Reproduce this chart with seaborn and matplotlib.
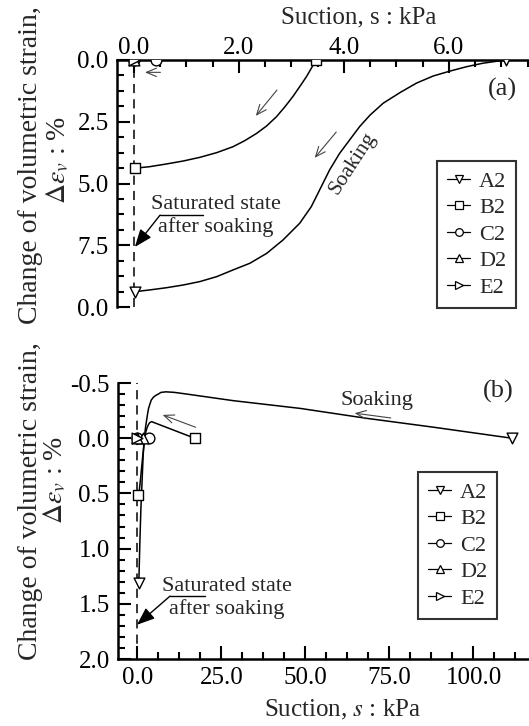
import matplotlib
matplotlib.use("Agg")
import matplotlib.pyplot as plt
import seaborn as sns
import pandas as pd
from matplotlib.lines import Line2D
from matplotlib.ticker import MultipleLocator, FixedLocator, FixedFormatter

# ---------------- panel (a): strain vs suction during soaking ----------------
a_A2_suction = [7.08, 6.65, 6.34, 6.02, 5.70, 5.38, 5.07, 4.75, 4.50, 4.30, 4.11, 3.92, 3.73,
                3.54, 3.38, 3.16, 2.84, 2.53, 2.21, 1.89, 1.58, 1.26, 0.94, 0.62, 0.30, 0.02]
a_A2_strain  = [0.00, 0.13, 0.27, 0.45, 0.65, 0.94, 1.32, 1.75, 2.23, 2.70, 3.24, 3.78, 4.45,
                5.26, 5.94, 6.61, 7.29, 7.83, 8.23, 8.50, 8.77, 8.97, 9.11, 9.22, 9.31, 9.38]
a_B2_suction = [3.47, 3.38, 3.29, 3.16, 3.03, 2.88, 2.72, 2.53, 2.34, 2.11, 1.89, 1.58, 1.26,
                0.94, 0.62, 0.30, 0.02]
a_B2_strain  = [0.00, 0.34, 0.67, 1.08, 1.48, 1.89, 2.29, 2.67, 2.97, 3.27, 3.51, 3.75, 3.94,
                4.09, 4.21, 4.32, 4.38]
a_C2_suction = [0.42, 0.00]
a_C2_strain  = [0.00, 0.00]
a_D2_suction = [0.00]
a_D2_strain  = [0.00]
a_E2_suction = [0.00]
a_E2_strain  = [0.00]

# ---------------- panel (b) ----------------
b_A2_suction = [111.4, 88.0, 68.2, 48.4, 28.5, 14.6, 11.0, 8.5, 7.0, 6.2, 5.3, 4.7, 4.1, 3.7,
                3.3, 3.0, 2.7, 2.4, 2.1, 1.9, 1.7, 1.5, 1.25, 1.0, 0.7, 0.4]
b_A2_strain  = [0.00, -0.10, -0.18, -0.27, -0.34, -0.40, -0.415, -0.42, -0.415, -0.40, -0.385,
                -0.37, -0.345, -0.31, -0.27, -0.22, -0.16, -0.10, -0.02, 0.05, 0.15, 0.29,
                0.47, 0.65, 0.95, 1.31]
b_B2_suction = [17.0, 4.2, 3.6, 3.2, 2.8, 2.5, 2.2, 2.0, 1.6, 1.25, 0.9, 0.55, 0.25]
b_B2_strain  = [0.00, -0.15, -0.14, -0.12, -0.09, -0.06, -0.01, 0.05, 0.15, 0.26, 0.37, 0.47, 0.51]
b_C2_suction = [3.4, 0.0]
b_C2_strain  = [0.00, 0.00]
b_D2_suction = [1.5, 0.0]
b_D2_strain  = [0.00, 0.00]
b_E2_suction = [0.0]
b_E2_strain  = [0.00]

series_names = ["A2", "B2", "C2", "D2", "E2"]
series_markers = {"A2": "v", "B2": "s", "C2": "o", "D2": "^", "E2": ">"}

W, H = 529, 726


def fx(x):
    return x / W


def fy(y):
    return 1 - y / H


def build_frame(panel):
    rows = []
    for name in series_names:
        s = globals()[f"{panel}_{name}_suction"]
        e = globals()[f"{panel}_{name}_strain"]
        for i, (si, ei) in enumerate(zip(s, e)):
            rows.append({"series": name, "suction": si, "strain": ei, "step": i})
    return pd.DataFrame(rows)


sns.set_theme(style="white")
plt.rcParams["font.family"] = ["Liberation Serif", "DejaVu Serif"]
plt.rcParams["mathtext.fontset"] = "stix"

fig = plt.figure(figsize=(W / 100, H / 100), dpi=100)

ax_a = fig.add_axes([117 / W, fy(307), 436.8 / W, 247 / H])
ax_b = fig.add_axes([118 / W, fy(659), 439.5 / W, 276 / H])


def draw_series(ax, df):
    sns.lineplot(data=df, x="suction", y="strain", units="series", estimator=None,
                 sort=False, color="black", linewidth=1.1, ax=ax, legend=False)
    for name in series_names:
        sub = df[df.series == name]
        ends = sub.iloc[[0, -1]] if len(sub) > 1 else sub
        sns.scatterplot(x=ends.suction, y=ends.strain, marker=series_markers[name],
                        s=60, facecolor="white", edgecolor="black", linewidth=1.0,
                        ax=ax, legend=False, zorder=5)


def style_axis(ax):
    for sp in ax.spines.values():
        sp.set_linewidth(1.8)
        sp.set_color("black")
    ax.tick_params(which="major", direction="in", length=9.5, width=1.5,
                   labelsize=18, colors="black", pad=6)
    ax.tick_params(which="minor", direction="in", length=5, width=1.5, colors="black")
    ax.set_xlabel("")
    ax.set_ylabel("")


def legend(ax, anchor):
    handles = [Line2D([0], [0], color="black", lw=0.9, marker=series_markers[n],
                      markersize=5.5, markerfacecolor="white", markeredgecolor="black",
                      markeredgewidth=0.9) for n in series_names]
    leg = ax.legend(handles, series_names, loc="upper left", bbox_to_anchor=anchor,
                    fontsize=16, frameon=True, fancybox=False, borderaxespad=0,
                    handlelength=1.05, handletextpad=0.4, labelspacing=0.27,
                    borderpad=0.45)
    leg.get_frame().set_edgecolor("black")
    leg.get_frame().set_linewidth(1.5)


def thin_arrow(ax, start, end):
    ax.annotate("", xy=end, xytext=start,
                arrowprops=dict(arrowstyle="->,head_length=0.6,head_width=0.25",
                                color="#444444", lw=0.8))


def leader(ax, right, corner, tip):
    ax.plot([right[0], corner[0]], [right[1], corner[1]], color="black", lw=1.0)
    ax.annotate("", xy=tip, xytext=corner,
                arrowprops=dict(arrowstyle="-|>,head_length=0.9,head_width=0.35",
                                color="black", lw=1.0, shrinkA=0, shrinkB=0))


# ---------------- panel (a) ----------------
df_a = build_frame("a")
draw_series(ax_a, df_a)
ax_a.axvline(0, color="black", lw=1.1, ls=(0, (6, 4)), zorder=1)
ax_a.set_xlim(-0.32, 8.0)
ax_a.set_ylim(10, 0)
ax_a.xaxis.tick_top()
ax_a.xaxis.set_major_locator(FixedLocator([0, 2, 4, 6]))
ax_a.xaxis.set_major_formatter(FixedFormatter(["0.0", "2.0", "4.0", "6.0"]))
ax_a.xaxis.set_minor_locator(MultipleLocator(0.5))
ax_a.yaxis.set_major_locator(FixedLocator([0, 2.5, 5, 7.5, 10]))
ax_a.yaxis.set_major_formatter(FixedFormatter(["0.0", "2.5", "5.0", "7.5", "0.0"]))
ax_a.yaxis.set_minor_locator(MultipleLocator(0.625))
style_axis(ax_a)
ax_a.tick_params(axis="x", which="both", top=True, bottom=False, pad=1)
ax_a.tick_params(axis="y", which="both", left=True, right=False)
ax_a.spines["bottom"].set_visible(False)
ax_a.spines["right"].set_visible(False)

thin_arrow(ax_a, (0.56, 0.50), (0.16, 0.50))
thin_arrow(ax_a, (2.76, 1.13), (2.29, 2.35))
thin_arrow(ax_a, (3.89, 2.83), (3.41, 4.05))
ax_a.text(4.17, 4.17, "Soaking", rotation=57, ha="center", va="center", fontsize=15.5)
ax_a.text(7.03, 1.21, "(a)", ha="center", va="center", fontsize=19)
ax_a.text(1.56, 6.32, "Saturated state\nafter soaking", ha="center", va="center",
          fontsize=16, linespacing=1.2)
leader(ax_a, (1.31, 6.28), (0.50, 6.28), (0.02, 7.57))
legend(ax_a, (0.7326, 0.591))

# ---------------- panel (b) ----------------
df_b = build_frame("b")
draw_series(ax_b, df_b)
ax_b.axvline(0, color="black", lw=1.1, ls=(0, (6, 4)), zorder=1)
ax_b.set_xlim(-5.8, 125)
ax_b.set_ylim(2.0, -0.5)
ax_b.xaxis.set_major_locator(FixedLocator([0, 25, 50, 75, 100]))
ax_b.xaxis.set_major_formatter(FixedFormatter(["0.0", "25.0", "50.0", "75.0", "100.0"]))
ax_b.xaxis.set_minor_locator(MultipleLocator(6.25))
ax_b.yaxis.set_major_locator(FixedLocator([-0.5, 0, 0.5, 1.0, 1.5, 2.0]))
ax_b.yaxis.set_major_formatter(FixedFormatter(["-0.5", "0.0", "0.5", "1.0", "1.5", "2.0"]))
ax_b.yaxis.set_minor_locator(MultipleLocator(0.1))
style_axis(ax_b)
ax_b.tick_params(axis="x", which="both", bottom=True, top=False)
ax_b.tick_params(axis="y", which="both", left=True, right=False)
ax_b.spines["top"].set_visible(False)
ax_b.spines["right"].set_visible(False)

thin_arrow(ax_b, (18.1, -0.09), (6.7, -0.22))
thin_arrow(ax_b, (76.2, -0.18), (63.8, -0.23))
ax_b.text(71.3, -0.34, "Soaking", ha="center", va="center", fontsize=16)
ax_b.text(107.3, -0.42, "(b)", ha="center", va="center", fontsize=19)
ax_b.text(26.6, 1.45, "Saturated state\nafter soaking", ha="center", va="center",
          fontsize=16, linespacing=1.2)
leader(ax_b, (20.1, 1.43), (9.7, 1.43), (-0.15, 1.69))
legend(ax_b, (0.6826, 0.6775))

# ---------------- axis titles ----------------
fig.text(fx(359), fy(17), "Suction, s : kPa", ha="center", va="center", fontsize=18)
fig.text(fx(343), fy(710), "Suction, $s$ : kPa", ha="center", va="center", fontsize=18)
for y1, y2, x2 in ((165, 160, 58), (501, 480, 55)):
    fig.text(fx(31), fy(y1), "Change of volumetric strain,", rotation=90,
             ha="center", va="center", fontsize=20)
    fig.text(fx(x2), fy(y2), r"$\Delta\varepsilon_v$ : %", rotation=90,
             ha="center", va="center", fontsize=20)

fig.savefig("out.png", dpi=100)
